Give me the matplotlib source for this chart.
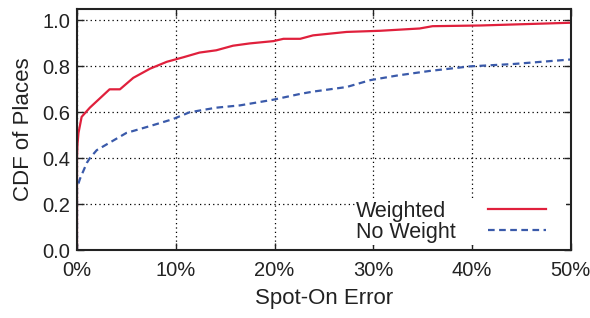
import numpy as np
import matplotlib
matplotlib.use('Agg')
import matplotlib.pyplot as plt
from matplotlib.patches import Rectangle
from matplotlib.ticker import FuncFormatter

plt.rcParams['font.family'] = ['Liberation Sans', 'DejaVu Sans']

# Spot-On error (%) and CDF values
weighted_x = [0, 0, 0.05, 0.15, 0.47, 1.3, 2.3, 3.3, 4.35, 5.7, 7.4, 9.1, 10.8, 12.4, 14.1,
              15.8, 17.5, 19.9, 20.9, 22.6, 23.9, 27.3, 30.7, 34.7, 36.0, 40.8, 50.0]
weighted_y = [0, 0.40, 0.46, 0.51, 0.58, 0.62, 0.66, 0.70, 0.70, 0.75, 0.79, 0.82, 0.84, 0.86, 0.87,
              0.89, 0.90, 0.91, 0.92, 0.92, 0.935, 0.95, 0.955, 0.965, 0.975, 0.978, 0.99]

noweight_x = [0, 0, 0.3, 1.0, 1.3, 2.0, 3.0, 5.0, 7.4, 9.7, 11.4, 14.1, 16.5, 19.9, 22.6,
              23.9, 27.3, 29.7, 32.4, 35.7, 39.8, 44.1, 50.0]
noweight_y = [0, 0.27, 0.31, 0.38, 0.40, 0.435, 0.46, 0.51, 0.54, 0.57, 0.60, 0.62, 0.63, 0.655, 0.68,
              0.69, 0.71, 0.74, 0.76, 0.78, 0.80, 0.81, 0.83]

labels = ['Weighted', 'No Weight']

fig = plt.figure(figsize=(5.9, 3.18), dpi=100)
ax = fig.add_axes([0.1305, 0.2138, 0.837, 0.758])
ax.set_axisbelow(True)

l1, = ax.plot(weighted_x, weighted_y, color='#e0203c', lw=1.6)
l2, = ax.plot(noweight_x, noweight_y, color='#3a5aaa', lw=1.6, ls=(0, (3, 2)))

ax.set_xlim(0, 50)
ax.set_ylim(0, 1.05)
ax.set_xticks(np.arange(0, 51, 10))
ax.set_yticks(np.arange(0, 1.01, 0.2))
ax.xaxis.set_major_formatter(FuncFormatter(lambda v, p: '%d%%' % v))
ax.yaxis.set_major_formatter(FuncFormatter(lambda v, p: '%.1f' % v))
ax.tick_params(direction='in', top=True, right=True, length=5, width=1, labelsize=14.5, colors='#222222')
ax.tick_params(axis='x', pad=8)
ax.tick_params(axis='y', pad=5)
ax.grid(True, color='black', ls=(0, (1, 2.5)), lw=0.9)
for s in ax.spines.values():
    s.set_linewidth(1.5)
    s.set_color('#222222')

ax.set_xlabel('Spot-On Error', fontsize=16, labelpad=6, color='#222222')
ax.set_ylabel('CDF of Places', fontsize=16, labelpad=6, color='#222222')

# blank area behind the key, hiding the grid like gnuplot does
ax.add_patch(Rectangle((0.563, 0.021), 0.427, 0.191, transform=ax.transAxes,
                       facecolor='white', edgecolor='none', zorder=1))

# gnuplot-style key: left-aligned labels, line samples on the right
common = dict(frameon=False, fontsize=15.5, labelspacing=0.0, borderpad=0, borderaxespad=0)
leg_text = ax.legend([l1, l2], labels, loc='lower left', handlelength=0, handletextpad=0,
                     bbox_to_anchor=(0.565, 0.03), **common)
for t in leg_text.get_texts():
    t.set_color('#222222')
ax.add_artist(leg_text)
ax.legend([l1, l2], ['', ''], loc='lower right', handlelength=2.7, handletextpad=0,
          bbox_to_anchor=(0.95, 0.03), **common)

fig.savefig('out.png', dpi=100)
